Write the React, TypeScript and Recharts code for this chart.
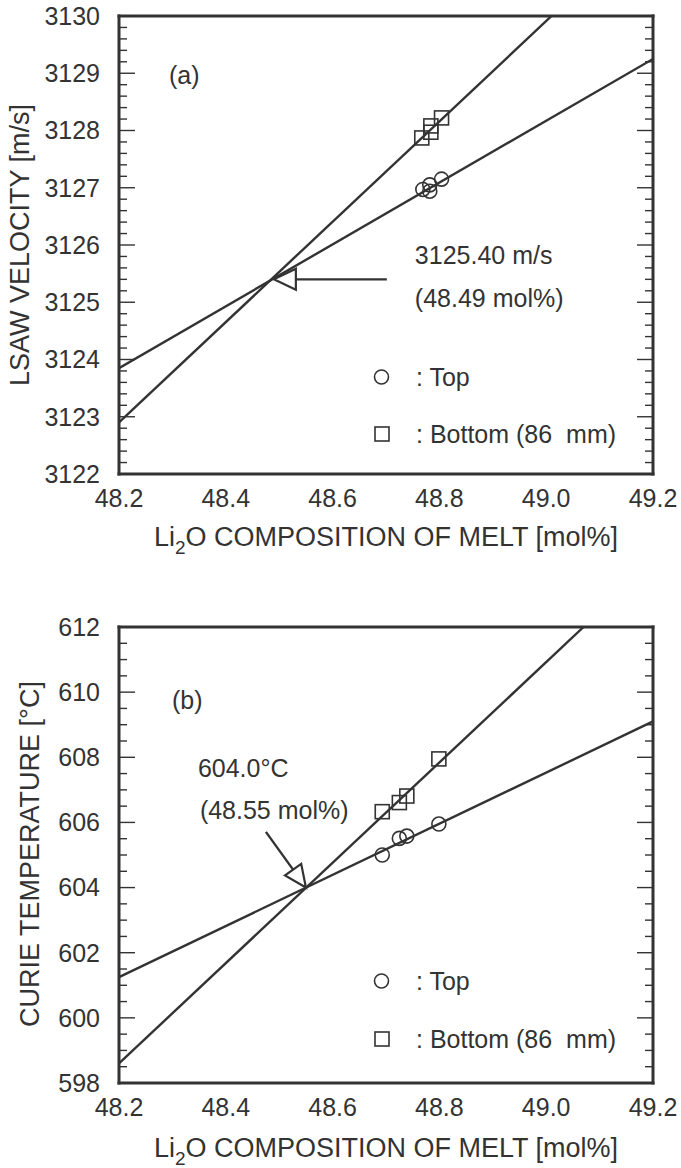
import React from 'react';
import { ScatterChart, Scatter, XAxis, YAxis, ReferenceLine, ReferenceDot } from 'recharts';

const INK = '#333333';
const FONT = '"Liberation Sans", Arial, Helvetica, sans-serif';
const W = 681;
const PLOT_LEFT = 119;
const PLOT_RIGHT = 653;
const Y_AXIS_W = 80;
const X_AXIS_H = 40;
const MAJ = 16;
const MIN = 8;

// Li2O composition of the melt (shared x axis)
const compDomain: [number, number] = [48.2, 49.2];
const compMajorTicks = [48.2, 48.4, 48.6, 48.8, 49.0, 49.2];
const compMinorTicks = [
  48.25, 48.3, 48.35, 48.45, 48.5, 48.55, 48.65, 48.7, 48.75,
  48.85, 48.9, 48.95, 49.05, 49.1, 49.15,
];

// (a) LSAW velocity [m/s]
const velDomain: [number, number] = [3122, 3130];
const velMajorTicks = [3122, 3123, 3124, 3125, 3126, 3127, 3128, 3129, 3130];
const velMinorTicks = [
  3122.2, 3122.4, 3122.6, 3122.8, 3123.2, 3123.4, 3123.6, 3123.8,
  3124.2, 3124.4, 3124.6, 3124.8, 3125.2, 3125.4, 3125.6, 3125.8,
  3126.2, 3126.4, 3126.6, 3126.8, 3127.2, 3127.4, 3127.6, 3127.8,
  3128.2, 3128.4, 3128.6, 3128.8, 3129.2, 3129.4, 3129.6, 3129.8,
];
const velTop = [
  { x: 48.769, y: 3126.97 },
  { x: 48.782, y: 3127.05 },
  { x: 48.782, y: 3126.94 },
  { x: 48.804, y: 3127.15 },
];
const velBottom = [
  { x: 48.767, y: 3127.87 },
  { x: 48.784, y: 3127.97 },
  { x: 48.784, y: 3128.08 },
  { x: 48.804, y: 3128.22 },
];
const velTopFit = [
  { x: 48.2, y: 3123.85 },
  { x: 49.2, y: 3129.25 },
];
const velBottomFit = [
  { x: 48.2, y: 3122.9 },
  { x: 49.01, y: 3130 },
];
const velCross = { x: 48.49, y: 3125.4 };

// (b) Curie temperature [°C]
const tempDomain: [number, number] = [598, 612];
const tempMajorTicks = [598, 600, 602, 604, 606, 608, 610, 612];
const tempMinorTicks = [
  598.5, 599, 599.5, 600.5, 601, 601.5, 602.5, 603, 603.5, 604.5, 605, 605.5,
  606.5, 607, 607.5, 608.5, 609, 609.5, 610.5, 611, 611.5,
];
const tempTop = [
  { x: 48.693, y: 605.0 },
  { x: 48.725, y: 605.51 },
  { x: 48.739, y: 605.58 },
  { x: 48.799, y: 605.95 },
];
const tempBottom = [
  { x: 48.693, y: 606.33 },
  { x: 48.725, y: 606.61 },
  { x: 48.739, y: 606.81 },
  { x: 48.799, y: 607.95 },
];
const tempTopFit = [
  { x: 48.2, y: 601.25 },
  { x: 49.2, y: 609.1 },
];
const tempBottomFit = [
  { x: 48.2, y: 598.6 },
  { x: 49.07, y: 612 },
];
const tempCross = { x: 48.55, y: 604.0 };

const textStyle = { fill: INK, fontFamily: FONT, fontSize: 25 };

type Side = 'left' | 'right' | 'top' | 'bottom';

// inward tick mark drawn from the frame; long for labelled values, short otherwise
function frameTick(side: Side, majors: number[]) {
  return (props: any) => {
    const { x, y, payload } = props;
    const len = majors.includes(payload.value) ? MAJ : MIN;
    let x2 = x;
    let y2 = y;
    if (side === 'left') x2 = x + len;
    else if (side === 'right') x2 = x - len;
    else if (side === 'top') y2 = y + len;
    else y2 = y - len;
    return <line x1={x} y1={y} x2={x2} y2={y2} stroke={INK} strokeWidth={1.4} />;
  };
}

function OpenCircle(props: any) {
  const { cx, cy } = props;
  return <circle cx={cx} cy={cy} r={7} fill="none" stroke={INK} strokeWidth={1.6} />;
}

function OpenSquare(props: any) {
  const { cx, cy } = props;
  return <rect x={cx - 7} y={cy - 7} width={14} height={14} fill="none" stroke={INK} strokeWidth={1.6} />;
}

function XTitle({ y }: { y: number }) {
  return (
    <text x={(PLOT_LEFT + PLOT_RIGHT) / 2} y={y} textAnchor="middle" {...textStyle} fontSize={27}>
      Li<tspan fontSize={19} dy={8}>2</tspan>
      <tspan dy={-8}>O COMPOSITION OF MELT [mol%]</tspan>
    </text>
  );
}

function Key({ yTop, yBottom }: { yTop: number; yBottom: number }) {
  return (
    <g>
      <circle cx={381.5} cy={yTop} r={7} fill="none" stroke={INK} strokeWidth={1.6} />
      <text x={416} y={yTop + 9} {...textStyle}>: Top</text>
      <rect x={375} y={yBottom - 7} width={14} height={14} fill="none" stroke={INK} strokeWidth={1.6} />
      <text x={416} y={yBottom + 9} {...textStyle} style={{ whiteSpace: 'pre' }}>
        {': Bottom (86  mm)'}
      </text>
    </g>
  );
}

type Pt = { x: number; y: number };

type PanelProps = {
  height: number;
  plotTop: number;
  plotBottom: number;
  yDomain: [number, number];
  yMajor: number[];
  yMinor: number[];
  topPts: Pt[];
  bottomPts: Pt[];
  topFit: Pt[];
  bottomFit: Pt[];
  cross: Pt;
  annotate: (cx: number, cy: number) => React.ReactElement;
  overlay: React.ReactNode;
};

function Panel(p: PanelProps) {
  const frame = { stroke: INK, strokeWidth: 3, strokeLinecap: 'square' as const };
  const xAll = [...compMajorTicks, ...compMinorTicks].sort((a, b) => a - b);
  const yAll = [...p.yMajor, ...p.yMinor].sort((a, b) => a - b);
  return (
    <div style={{ position: 'relative', width: W, height: p.height }}>
      <ScatterChart
        width={W}
        height={p.height}
        margin={{
          top: p.plotTop,
          right: W - PLOT_RIGHT,
          bottom: p.height - p.plotBottom - X_AXIS_H,
          left: PLOT_LEFT - Y_AXIS_W,
        }}
      >
        {/* labelled axes */}
        <XAxis
          xAxisId="x" type="number" dataKey="x" domain={compDomain}
          ticks={compMajorTicks} interval={0} tickFormatter={(v: number) => v.toFixed(1)}
          axisLine={false} tickLine={false} tickSize={0} tickMargin={15} height={X_AXIS_H}
          tick={textStyle}
        />
        <YAxis
          yAxisId="y" type="number" dataKey="y" domain={p.yDomain}
          ticks={p.yMajor} interval={0}
          axisLine={false} tickLine={false} tickSize={0} tickMargin={19} width={Y_AXIS_W}
          tick={textStyle}
        />
        {/* frame on all four sides, each with inward major and minor ticks */}
        <XAxis xAxisId="fb" type="number" orientation="bottom" mirror domain={compDomain} allowDataOverflow
          ticks={xAll} interval={0} tick={frameTick('bottom', compMajorTicks)} tickLine={false}
          tickSize={0} tickMargin={0} axisLine={frame} />
        <XAxis xAxisId="ft" type="number" orientation="top" mirror domain={compDomain} allowDataOverflow
          ticks={xAll} interval={0} tick={frameTick('top', compMajorTicks)} tickLine={false}
          tickSize={0} tickMargin={0} axisLine={frame} />
        <YAxis yAxisId="fl" type="number" orientation="left" mirror domain={p.yDomain} allowDataOverflow
          ticks={yAll} interval={0} tick={frameTick('left', p.yMajor)} tickLine={false}
          tickSize={0} tickMargin={0} axisLine={frame} />
        <YAxis yAxisId="fr" type="number" orientation="right" mirror domain={p.yDomain} allowDataOverflow
          ticks={yAll} interval={0} tick={frameTick('right', p.yMajor)} tickLine={false}
          tickSize={0} tickMargin={0} axisLine={frame} />

        {/* fitted lines */}
        <ReferenceLine xAxisId="x" yAxisId="y" segment={p.topFit} stroke={INK} strokeWidth={2.4} ifOverflow="hidden" />
        <ReferenceLine xAxisId="x" yAxisId="y" segment={p.bottomFit} stroke={INK} strokeWidth={2.4} ifOverflow="hidden" />

        {/* measurements */}
        <Scatter xAxisId="x" yAxisId="y" data={p.topPts} shape={OpenCircle} isAnimationActive={false} />
        <Scatter xAxisId="x" yAxisId="y" data={p.bottomPts} shape={OpenSquare} isAnimationActive={false} />

        {/* crossing point with arrow and value */}
        <ReferenceDot
          xAxisId="x" yAxisId="y" x={p.cross.x} y={p.cross.y} r={0}
          shape={(sp: any) => p.annotate(sp.cx, sp.cy)}
        />
      </ScatterChart>
      <svg width={W} height={p.height} style={{ position: 'absolute', left: 0, top: 0, pointerEvents: 'none' }}>
        {p.overlay}
      </svg>
    </div>
  );
}

function velArrow(cx: number, cy: number) {
  return (
    <g>
      <line x1={cx + 22} y1={cy} x2={cx + 113} y2={cy} stroke={INK} strokeWidth={2.4} />
      <polygon
        points={`${cx},${cy} ${cx + 22},${cy - 10.5} ${cx + 22},${cy + 10.5}`}
        fill="#fff" stroke={INK} strokeWidth={2.2} strokeLinejoin="miter"
      />
      <text x={cx + 141} y={cy - 24 + 9} {...textStyle}>{`${velCross.y.toFixed(2)} m/s`}</text>
      <text x={cx + 141} y={cy + 19 + 9} {...textStyle}>{`(${velCross.x.toFixed(2)} mol%)`}</text>
    </g>
  );
}

function tempArrow(cx: number, cy: number) {
  return (
    <g>
      <line x1={cx - 40} y1={cy - 55.7} x2={cx - 12.8} y2={cy - 17.9} stroke={INK} strokeWidth={2.4} />
      <polygon
        points={`${cx},${cy} ${cx - 4.7},${cy - 23.7} ${cx - 20.9},${cy - 12.1}`}
        fill="#fff" stroke={INK} strokeWidth={2.2} strokeLinejoin="miter"
      />
      <text x={cx - 108} y={cy - 120 + 9} {...textStyle}>{`${tempCross.y.toFixed(1)}°C`}</text>
      <text x={cx - 106} y={cy - 78 + 9} {...textStyle}>{`(${tempCross.x.toFixed(2)} mol%)`}</text>
    </g>
  );
}

export default function App() {
  return (
    <div style={{ position: 'absolute', left: 0, top: 0, width: W, height: 1168, background: '#fff' }}>
      <Panel
        height={560}
        plotTop={16}
        plotBottom={474}
        yDomain={velDomain}
        yMajor={velMajorTicks}
        yMinor={velMinorTicks}
        topPts={velTop}
        bottomPts={velBottom}
        topFit={velTopFit}
        bottomFit={velBottomFit}
        cross={velCross}
        annotate={velArrow}
        overlay={
          <g>
            <text x={169} y={84} {...textStyle}>(a)</text>
            <Key yTop={377} yBottom={434} />
            <text transform="translate(29,245) rotate(-90)" textAnchor="middle" {...textStyle} fontSize={27}>
              LSAW VELOCITY [m/s]
            </text>
            <XTitle y={546} />
          </g>
        }
      />
      <Panel
        height={608}
        plotTop={67}
        plotBottom={523}
        yDomain={tempDomain}
        yMajor={tempMajorTicks}
        yMinor={tempMinorTicks}
        topPts={tempTop}
        bottomPts={tempBottom}
        topFit={tempTopFit}
        bottomFit={tempBottomFit}
        cross={tempCross}
        annotate={tempArrow}
        overlay={
          <g>
            <text x={172} y={149} {...textStyle}>(b)</text>
            <Key yTop={421} yBottom={479} />
            <text transform="translate(39,294) rotate(-90)" textAnchor="middle" {...textStyle} fontSize={27}>
              CURIE TEMPERATURE [°C]
            </text>
            <XTitle y={597} />
          </g>
        }
      />
    </div>
  );
}
